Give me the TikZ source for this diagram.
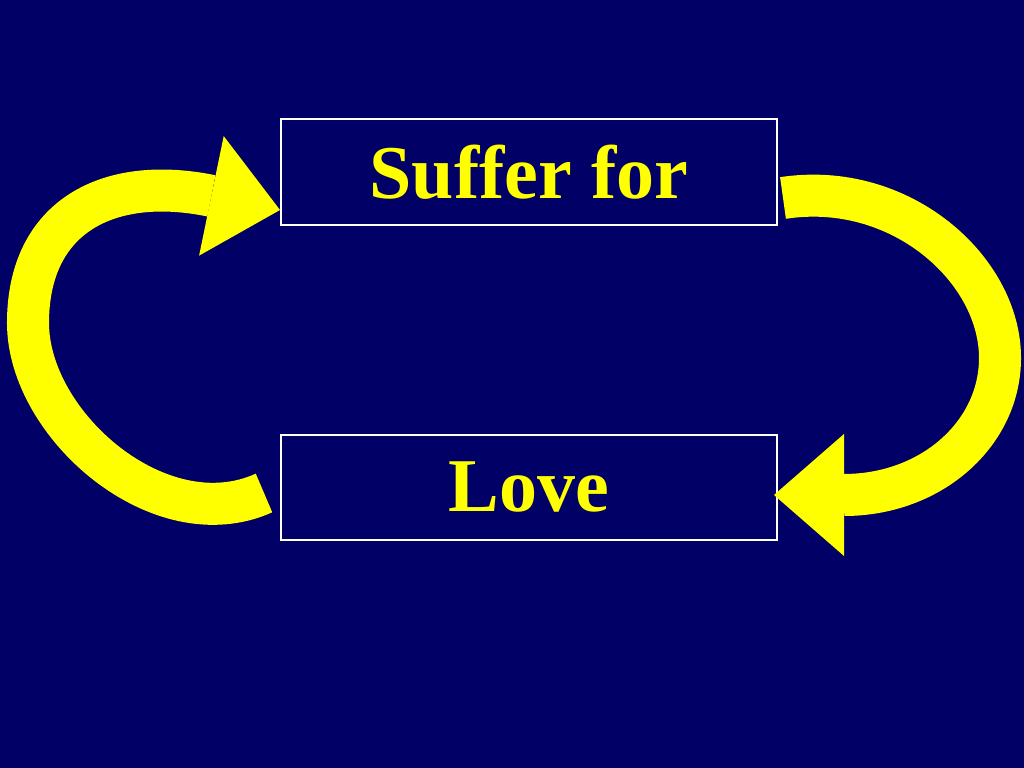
\documentclass[tikz,border=0pt]{standalone}
\usepackage{fontspec}
\setmainfont{Liberation Serif}
\usetikzlibrary{arrows.meta,positioning}
\definecolor{slidebg}{HTML}{000066}
\definecolor{slideyellow}{HTML}{FFFF00}
\tikzset{
  wordbox/.style={draw=white, line width=0.02cm, minimum width=4.96cm,
    minimum height=1.05cm, inner sep=0pt, text=slideyellow,
    font=\fontsize{21.6pt}{26pt}\selectfont\bfseries},
  bigarrow/.style={draw=slideyellow, line width=0.42cm,
    -{Triangle[length=0.7cm, width=1.22cm, line width=0pt]}}
}

\begin{document}
\begin{tikzpicture}[x=0.01cm, y=-0.01cm]
  \fill[slidebg] (0,0) rectangle (1024,768);
  \useasboundingbox (0,0) rectangle (1024,768);

  \node[wordbox] (suffer) at (529,172) {Suffer for};
  \node[wordbox, below=2.08cm of suffer] (love) {Love};

  % free ends of the two arrows
  \coordinate (loveTail) at (264,493);
  \coordinate (sufferTip) at (280,210);
  \coordinate (sufferTail) at (783,198);
  \coordinate (loveTip) at (774,495);

  % love -> suffer for (left)
  \draw[bigarrow] (loveTail) .. controls (160,540) and (28,425) .. (28,323)
    .. controls (28,215) and (110,175) .. (sufferTip);
  % suffer for -> love (right)
  \draw[bigarrow] (sufferTail) .. controls (900,180) and (1000,269) .. (1000,358)
    .. controls (1000,434) and (931,495) .. (loveTip);
\end{tikzpicture}
\end{document}
